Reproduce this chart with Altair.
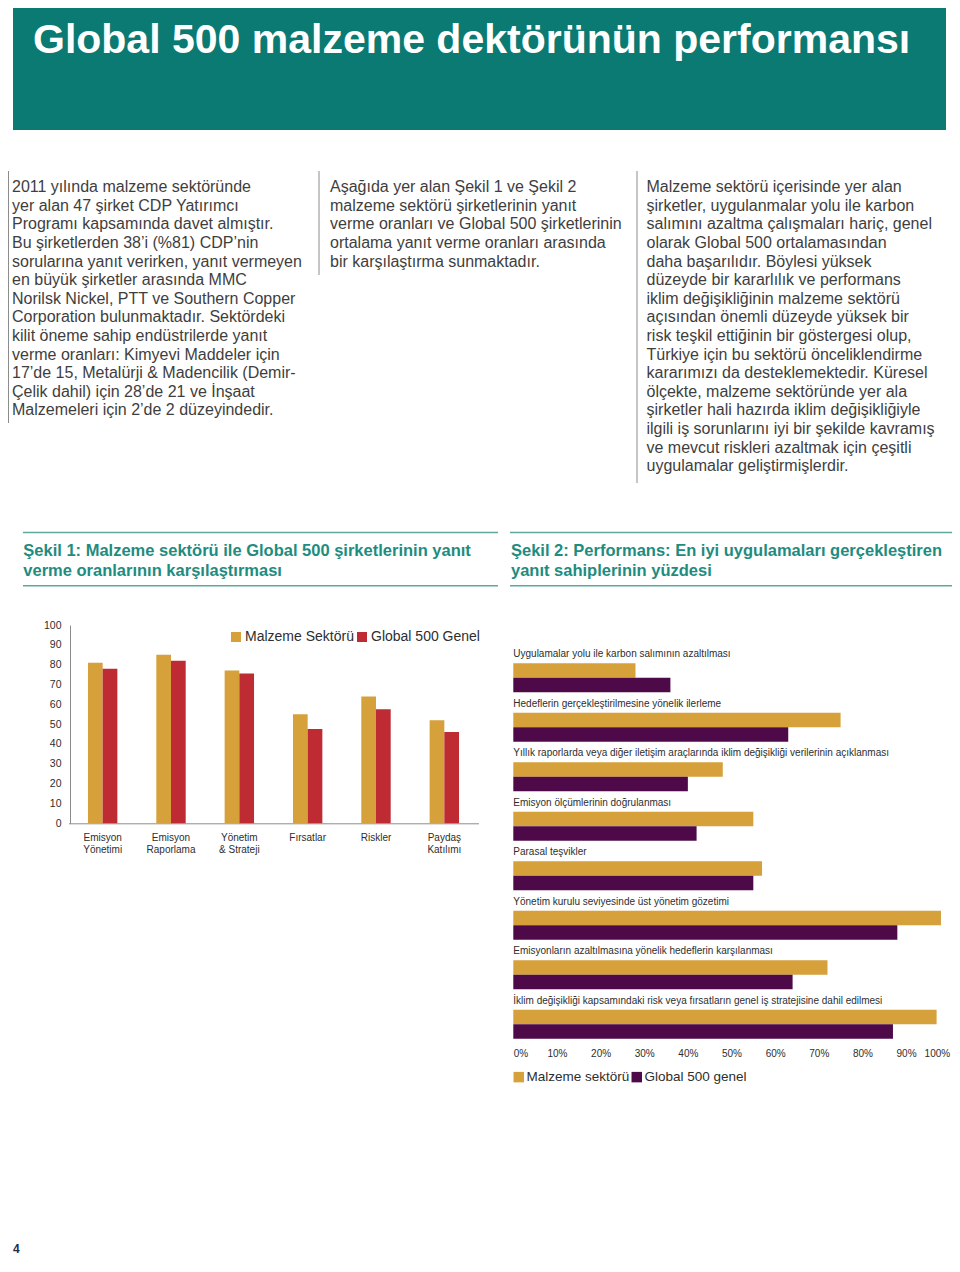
import altair as alt
import pandas as pd

# ---------------- text content ----------------
page_title = "Global 500 malzeme dektörünün performansı"

col1_lines = [
    "2011 yılında malzeme sektöründe",
    "yer alan 47 şirket CDP Yatırımcı",
    "Programı kapsamında davet almıştır.",
    "Bu şirketlerden 38’i (%81) CDP’nin",
    "sorularına yanıt verirken, yanıt vermeyen",
    "en büyük şirketler arasında MMC",
    "Norilsk Nickel, PTT ve Southern Copper",
    "Corporation bulunmaktadır.  Sektördeki",
    "kilit öneme sahip endüstrilerde yanıt",
    "verme oranları:  Kimyevi Maddeler için",
    "17’de 15, Metalürji & Madencilik (Demir-",
    "Çelik dahil) için 28’de 21 ve İnşaat",
    "Malzemeleri için 2’de 2 düzeyindedir.",
]
col2_lines = [
    "Aşağıda yer alan Şekil 1 ve Şekil 2",
    "malzeme sektörü şirketlerinin yanıt",
    "verme oranları ve Global 500 şirketlerinin",
    "ortalama yanıt verme oranları arasında",
    "bir karşılaştırma sunmaktadır.",
]
col3_lines = [
    "Malzeme sektörü içerisinde yer alan",
    "şirketler, uygulanmalar yolu ile karbon",
    "salımını azaltma çalışmaları hariç, genel",
    "olarak Global 500 ortalamasından",
    "daha başarılıdır.  Böylesi yüksek",
    "düzeyde bir kararlılık ve performans",
    "iklim değişikliğinin malzeme sektörü",
    "açısından önemli düzeyde yüksek bir",
    "risk teşkil ettiğinin bir göstergesi olup,",
    "Türkiye için bu sektörü önceliklendirme",
    "kararımızı da desteklemektedir. Küresel",
    "ölçekte, malzeme sektöründe yer ala",
    "şirketler hali hazırda iklim değişikliğiyle",
    "ilgili iş sorunlarını iyi bir şekilde kavramış",
    "ve mevcut riskleri azaltmak için çeşitli",
    "uygulamalar geliştirmişlerdir.",
]
fig1_title = ["Şekil 1: Malzeme sektörü ile Global 500 şirketlerinin yanıt",
              "verme oranlarının karşılaştırması"]
fig2_title = ["Şekil 2: Performans: En iyi uygulamaları gerçekleştiren",
              "yanıt sahiplerinin yüzdesi"]
page_number = "4"

# ---------------- figure 1 data ----------------
fig1_categories = ["Emisyon\nYönetimi", "Emisyon\nRaporlama", "Yönetim\n& Strateji",
                   "Fırsatlar", "Riskler", "Paydaş\nKatılımı"]
fig1_series = ["Malzeme Sektörü", "Global 500 Genel"]
fig1_malzeme = [81, 85, 77, 55, 64, 52]
fig1_global = [78, 82, 75.5, 47.5, 57.5, 46]
fig1_yticks = [0, 10, 20, 30, 40, 50, 60, 70, 80, 90, 100]

# ---------------- figure 2 data ----------------
fig2_categories = [
    "Uygulamalar yolu ile karbon salımının azaltılması",
    "Hedeflerin gerçekleştirilmesine yönelik ilerleme",
    "Yıllık raporlarda veya diğer iletişim araçlarında iklim değişikliği verilerinin açıklanması",
    "Emisyon ölçümlerinin doğrulanması",
    "Parasal teşvikler",
    "Yönetim kurulu seviyesinde üst yönetim gözetimi",
    "Emisyonların azaltılmasına yönelik hedeflerin karşılanması",
    "İklim değişikliği kapsamındaki risk veya fırsatların genel iş stratejisine dahil edilmesi",
]
fig2_series = ["Malzeme sektörü", "Global 500 genel"]
fig2_malzeme = [28, 75, 48, 55, 57, 98, 72, 97]
fig2_global = [36, 63, 40, 42, 55, 88, 64, 87]
fig2_xticks = [0, 10, 20, 30, 40, 50, 60, 70, 80, 90, 100]

# ---------------- tables ----------------
df1 = pd.DataFrame(
    [{"cat": c, "series": fig1_series[0], "value": v} for c, v in zip(fig1_categories, fig1_malzeme)]
    + [{"cat": c, "series": fig1_series[1], "value": v} for c, v in zip(fig1_categories, fig1_global)]
)
df2 = pd.DataFrame(
    [{"cat": c, "series": fig2_series[0], "pct": v} for c, v in zip(fig2_categories, fig2_malzeme)]
    + [{"cat": c, "series": fig2_series[1], "pct": v} for c, v in zip(fig2_categories, fig2_global)]
)
one = pd.DataFrame({"k": [0]})

# ---------------- styles ----------------
W, H = 944, 1250
FONT = "Liberation Sans"
TEAL_HEADER = "#0A7A72"
TEAL_TEXT = "#1E8C7E"
TEAL_RULE = "#5EA99D"
GOLD = "#D6A13A"
RED = "#BF2B33"
PURPLE = "#4E0A48"
TEXT = "#3E3E3E"
DARK = "#2E2E2E"
RULE_GRAY = "#8C8C8C"


def deco_text(lines, x, y, size, color, weight="normal", lh=None):
    return alt.Chart(one).mark_text(
        align="left", baseline="alphabetic", font=FONT, fontSize=size,
        fontWeight=weight, color=color, lineHeight=lh if lh else size * 1.2,
    ).encode(x=alt.value(x), y=alt.value(y), text=alt.value(lines))


def vrule(x, y1, y2, color, w=1.0):
    return alt.Chart(one).mark_rule(color=color, strokeWidth=w).encode(
        x=alt.value(x), y=alt.value(y1), y2=alt.value(y2))


def hrule(x1, x2, y, color, w=1.0):
    return alt.Chart(one).mark_rule(color=color, strokeWidth=w).encode(
        x=alt.value(x1), x2=alt.value(x2), y=alt.value(y))


header_box = alt.Chart(one).mark_rect(color=TEAL_HEADER).encode(
    x=alt.value(5), x2=alt.value(938), y=alt.value(0), y2=alt.value(122))
header_txt = deco_text(page_title, 25, 45, 41, "white", weight="bold")

body1 = deco_text(col1_lines, 4, 184.3, 16, TEXT, lh=18.6)
body2 = deco_text(col2_lines, 322, 184.3, 16, TEXT, lh=18.6)
body3 = deco_text(col3_lines, 638.5, 184.3, 16, TEXT, lh=18.6)
rule1 = vrule(0.5, 163, 415, RULE_GRAY)
rule2 = vrule(311, 163, 267, RULE_GRAY)
rule3 = vrule(629, 163, 475, RULE_GRAY)

sec_rules = [
    hrule(15, 490, 524.5, TEAL_RULE, 1.6), hrule(15, 490, 577.7, TEAL_RULE, 1.6),
    hrule(502, 947, 524.5, TEAL_RULE, 1.6), hrule(502, 947, 577.7, TEAL_RULE, 1.6),
]
sec1 = deco_text(fig1_title, 15.3, 547.7, 16.5, TEAL_TEXT, weight="bold", lh=20)
sec2 = deco_text(fig2_title, 503, 547.7, 16.5, TEAL_TEXT, weight="bold", lh=20)
pnum = deco_text(page_number, 5, 1245, 12, "#1F2D4D", weight="bold")

# ---------------- figure 1 ----------------
bars1 = alt.Chart(df1).mark_bar().encode(
    x=alt.X("cat:N", sort=fig1_categories,
            scale=alt.Scale(range=[60.5, 470.5], paddingInner=0.57, paddingOuter=0.285),
            axis=alt.Axis(orient="bottom", offset=815.3 - H, title=None, grid=False,
                          domain=True, domainColor=RULE_GRAY, domainWidth=1,
                          ticks=False, tickSize=0, labelAngle=0,
                          labelExpr="split(datum.label, '\\n')", labelLineHeight=12,
                          labelPadding=9, labelFontSize=10, labelFont=FONT, labelColor=DARK)),
    xOffset=alt.XOffset("series:N", sort=fig1_series,
                        scale=alt.Scale(paddingInner=0, paddingOuter=0)),
    y=alt.Y("value:Q", scale=alt.Scale(domain=[0, 100], range=[815.3, 617], nice=False),
            axis=alt.Axis(orient="left", offset=-62, values=fig1_yticks, title=None, grid=False,
                          domain=True, domainColor=RULE_GRAY, domainWidth=1,
                          ticks=False, tickSize=0, labelPadding=9,
                          labelFontSize=10.5, labelFont=FONT, labelColor=DARK)),
    color=alt.Color("series:N", sort=fig1_series,
                    scale=alt.Scale(domain=fig1_series, range=[GOLD, RED]),
                    legend=alt.Legend(orient="none", legendX=221, legendY=622,
                                      direction="horizontal", title=None, padding=0,
                                      symbolType="square", symbolSize=100, symbolStrokeWidth=0,
                                      labelFontSize=14, labelFont=FONT, labelColor=DARK,
                                      labelOffset=2, columnPadding=1)),
)

# ---------------- figure 2 ----------------
bars2 = alt.Chart(df2).mark_bar().encode(
    x=alt.X("pct:Q", scale=alt.Scale(domain=[0, 100], range=[505.3, 941.7], nice=False),
            axis=alt.Axis(orient="bottom", offset=1031 - H, values=fig2_xticks, title=None,
                          labelExpr="datum.value + '%'", domain=False, ticks=False, tickSize=0,
                          grid=False, labelFlush=True, labelPadding=9,
                          labelFontSize=10, labelFont=FONT, labelColor=DARK)),
    y=alt.Y("cat:N", sort=fig2_categories,
            scale=alt.Scale(range=[655.3, 1030.8], paddingInner=0.414, paddingOuter=0),
            axis=None),
    yOffset=alt.YOffset("series:N", sort=fig2_series,
                        scale=alt.Scale(paddingInner=0, paddingOuter=0)),
    color=alt.Color("series:N", sort=fig2_series,
                    scale=alt.Scale(domain=fig2_series, range=[GOLD, PURPLE]),
                    legend=alt.Legend(orient="none", legendX=504, legendY=1062,
                                      direction="horizontal", title=None, padding=0,
                                      symbolType="square", symbolSize=110, symbolStrokeWidth=0,
                                      labelFontSize=13.5, labelFont=FONT, labelColor=DARK,
                                      labelOffset=1, columnPadding=0)),
)
labels2 = alt.Chart(df2).transform_filter(
    alt.datum.series == fig2_series[0]
).mark_text(align="left", baseline="alphabetic", dy=-6, fontSize=10, font=FONT, color=DARK).encode(
    x=alt.value(505.3),
    y=alt.Y("cat:N", sort=fig2_categories, bandPosition=0, axis=None),
    text="cat:N",
)
fig2 = alt.layer(bars2, labels2)

chart = alt.layer(
    header_box, header_txt, body1, body2, body3, rule1, rule2, rule3,
    *sec_rules, sec1, sec2, bars1, fig2, pnum,
).resolve_scale(
    x="independent", y="independent", color="independent"
).properties(
    width=W, height=H, padding=0, autosize=alt.AutoSizeParams(type="none"),
).configure_view(stroke="transparent")

chart.save("out.html", embed_options={"renderer": "svg", "actions": False})
